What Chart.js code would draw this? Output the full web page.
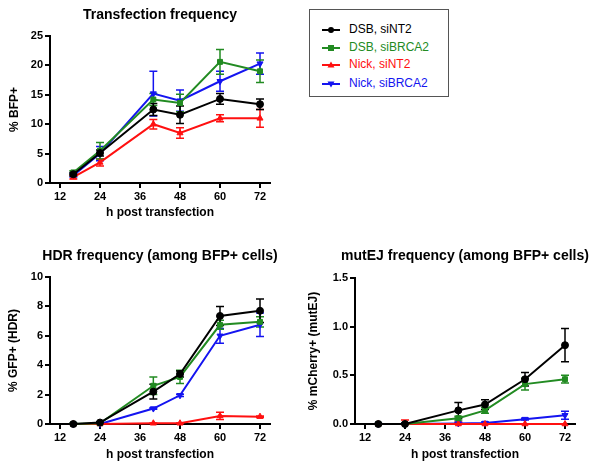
<!DOCTYPE html>
<html>
<head>
<meta charset="utf-8">
<script src="https://cdn.jsdelivr.net/npm/chart.js@4.4.0/dist/chart.umd.min.js"></script>
<style>
body{margin:0;background:#fff;font-family:"Liberation Sans",Arial,sans-serif;}
.panel{position:absolute;}
#legend{position:absolute;left:309px;top:9px;width:140px;height:88px;border:1.5px solid #555;box-sizing:border-box;font-size:12px;}
#legend .row{position:absolute;left:12px;height:14px;line-height:14px;white-space:nowrap;}
#legend svg{vertical-align:middle;margin-right:9px;}
</style>
</head>
<body>
<div class="panel" style="left:0;top:0;width:300px;height:230px"><canvas id="c1" width="300" height="230"></canvas></div>
<div class="panel" style="left:0;top:230px;width:300px;height:241px"><canvas id="c2" width="300" height="241"></canvas></div>
<div class="panel" style="left:300px;top:230px;width:301px;height:241px"><canvas id="c3" width="301" height="241"></canvas></div>
<div id="legend"></div>
<script>
// time points (h post transfection)
var hours = [16, 24, 40, 48, 60, 72];
var xTicks = [12, 24, 36, 48, 60, 72];

var seriesNames = ['DSB, siNT2', 'DSB, siBRCA2', 'Nick, siNT2', 'Nick, siBRCA2'];
var seriesColors = ['#000000', '#228b22', '#ff1010', '#1414f0'];
var seriesMarkers = ['circle', 'rect', 'triangle', 'triangle'];
var seriesRotation = [0, 0, 0, 180];

// Transfection frequency (% BFP+)
var bfpDsbNT2 = [1.5, 5.1, 12.5, 11.6, 14.3, 13.4];
var bfpDsbNT2Err = [0.3, 0.5, 1.0, 1.5, 0.9, 0.9];
var bfpDsbBRCA2 = [1.8, 5.5, 14.2, 13.6, 20.6, 19.0];
var bfpDsbBRCA2Err = [0.3, 1.4, 1.0, 1.5, 2.1, 1.9];
var bfpNickNT2 = [1.0, 3.5, 10.0, 8.5, 11.0, 11.0];
var bfpNickNT2Err = [0.3, 0.6, 0.8, 0.9, 0.6, 1.5];
var bfpNickBRCA2 = [1.3, 5.0, 15.2, 14.0, 17.3, 20.3];
var bfpNickBRCA2Err = [0.3, 1.2, 3.8, 1.8, 1.7, 1.8];

// HDR frequency (% GFP+)
var hdrDsbNT2 = [0, 0.1, 2.2, 3.4, 7.35, 7.7];
var hdrDsbNT2Err = [0.05, 0.05, 0.5, 0.2, 0.65, 0.8];
var hdrDsbBRCA2 = [0, 0.05, 2.6, 3.2, 6.75, 6.95];
var hdrDsbBRCA2Err = [0.05, 0.05, 0.6, 0.45, 0.3, 0.35];
var hdrNickNT2 = [0, 0, 0.05, 0.05, 0.55, 0.5];
var hdrNickNT2Err = [0, 0, 0.02, 0.02, 0.25, 0.05];
var hdrNickBRCA2 = [0, 0, 1.05, 1.95, 6.0, 6.75];
var hdrNickBRCA2Err = [0, 0, 0.05, 0.08, 0.5, 0.8];

// mutEJ frequency (% mCherry+)
var ejDsbNT2 = [0, 0, 0.14, 0.2, 0.46, 0.81];
var ejDsbNT2Err = [0.005, 0.01, 0.08, 0.05, 0.07, 0.17];
var ejDsbBRCA2 = [0, 0, 0.06, 0.14, 0.41, 0.46];
var ejDsbBRCA2Err = [0, 0.01, 0.02, 0.03, 0.06, 0.04];
var ejNickNT2 = [0, 0, 0, 0, 0, 0];
var ejNickNT2Err = [0, 0.04, 0.02, 0, 0, 0];
var ejNickBRCA2 = [0, 0, 0.005, 0.01, 0.05, 0.09];
var ejNickBRCA2Err = [0, 0, 0.005, 0.01, 0.01, 0.04];

var FONT = '"Liberation Sans", Arial, sans-serif';
Chart.defaults.font.family = FONT;
Chart.defaults.color = '#000';

// error bars with caps, drawn through the chart scales
var errorBars = {
  id: 'errorBars',
  beforeDatasetsDraw: function(chart) {
    var ctx = chart.ctx, xs = chart.scales.x, ys = chart.scales.y;
    for (var i = chart.data.datasets.length - 1; i >= 0; i--) {
      var ds = chart.data.datasets[i];
      ctx.save();
      ctx.strokeStyle = ds.borderColor;
      ctx.lineWidth = 1.5;
      ds.data.forEach(function(p, j) {
        var e = ds.errors[j];
        if (!e) return;
        var x = xs.getPixelForValue(p.x);
        var lo = ys.getPixelForValue(Math.max(p.y - e, ys.min));
        var hi = ys.getPixelForValue(p.y + e);
        ctx.beginPath();
        ctx.moveTo(x, lo); ctx.lineTo(x, hi);
        ctx.moveTo(x - 4, hi); ctx.lineTo(x + 4, hi);
        if (p.y - e > ys.min) { ctx.moveTo(x - 4, lo); ctx.lineTo(x + 4, lo); }
        ctx.stroke();
      });
      ctx.restore();
    }
  }
};

var panelTitle = {
  id: 'panelTitle',
  afterDraw: function(chart, args, opts) {
    var ctx = chart.ctx, a = chart.chartArea;
    ctx.save();
    ctx.font = 'bold 14px ' + FONT;
    ctx.fillStyle = '#000';
    ctx.textAlign = 'center';
    ctx.textBaseline = 'middle';
    ctx.fillText(opts.text, (a.left + a.right) / 2, opts.y);
    ctx.restore();
  }
};

function makeDatasets(values, errors) {
  return values.map(function(vals, i) {
    return {
      label: seriesNames[i],
      data: vals.map(function(v, j) { return {x: hours[j], y: v}; }),
      errors: errors[i],
      borderColor: seriesColors[i],
      backgroundColor: seriesColors[i],
      borderWidth: 2,
      pointStyle: seriesMarkers[i],
      rotation: seriesRotation[i],
      pointRadius: 3.5,
      pointBorderWidth: 1,
      tension: 0,
      clip: false
    };
  });
}

function axisStyle() {
  return {
    grid: {drawOnChartArea: false, color: '#000', lineWidth: 2, tickLength: 5},
    border: {color: '#000', width: 2}
  };
}

function makeChart(id, title, titleY, values, errors, yMax, yStep, yTitle, yWidth, decimals, pad) {
  var x = axisStyle(), y = axisStyle();
  x.type = 'linear'; x.min = 9; x.max = 75;
  x.afterBuildTicks = function(s) { s.ticks = xTicks.map(function(v) { return {value: v}; }); };
  x.ticks = {color: '#000', font: {size: 11, weight: 'bold'}, padding: 2, maxRotation: 0};
  x.title = {display: true, text: 'h post transfection', color: '#000', font: {size: 12, weight: 'bold'}, padding: {top: 0, bottom: pad.xTitle}};
  x.afterFit = function(s) { s.height = pad.xHeight; };
  y.type = 'linear'; y.min = 0; y.max = yMax;
  y.ticks = {color: '#000', font: {size: 11, weight: 'bold'}, padding: 2, stepSize: yStep,
    callback: function(v) { return v.toFixed(decimals); }};
  y.title = {display: true, text: yTitle, color: '#000', font: {size: 12, weight: 'bold'}, padding: {top: pad.yTitle, bottom: 0}};
  y.afterFit = function(s) { s.width = yWidth; };
  return new Chart(document.getElementById(id), {
    type: 'line',
    data: {datasets: makeDatasets(values, errors)},
    options: {
      responsive: false,
      animation: false,
      layout: {padding: {top: pad.top, right: pad.right, left: 0, bottom: 0}},
      plugins: {legend: {display: false}, tooltip: {enabled: false}, title: {display: false},
        panelTitle: {text: title, y: titleY}},
      scales: {x: x, y: y}
    },
    plugins: [errorBars, panelTitle]
  });
}

makeChart('c1', 'Transfection frequency', 15,
  [bfpDsbNT2, bfpDsbBRCA2, bfpNickNT2, bfpNickBRCA2],
  [bfpDsbNT2Err, bfpDsbBRCA2Err, bfpNickNT2Err, bfpNickBRCA2Err],
  25, 5, '% BFP+', 50, 0, {top: 36, right: 30, xHeight: 47, xTitle: 10, yTitle: 7});

makeChart('c2', 'HDR frequency (among BFP+ cells)', 26,
  [hdrDsbNT2, hdrDsbBRCA2, hdrNickNT2, hdrNickBRCA2],
  [hdrDsbNT2Err, hdrDsbBRCA2Err, hdrNickNT2Err, hdrNickBRCA2Err],
  10, 2, '% GFP+ (HDR)', 50, 0, {top: 47, right: 30, xHeight: 47, xTitle: 9, yTitle: 6});

makeChart('c3', 'mutEJ frequency (among BFP+ cells)', 26,
  [ejDsbNT2, ejDsbBRCA2, ejNickNT2, ejNickBRCA2],
  [ejDsbNT2Err, ejDsbBRCA2Err, ejNickNT2Err, ejNickBRCA2Err],
  1.5, 0.5, '% mCherry+ (mutEJ)', 55, 1, {top: 48, right: 26, xHeight: 47, xTitle: 9, yTitle: 6});

// legend box
var legend = document.getElementById('legend');
var rowTops = [12, 30, 47, 66];
seriesNames.forEach(function(name, i) {
  var c = seriesColors[i];
  var m;
  if (seriesMarkers[i] === 'circle') m = '<circle cx="9" cy="5" r="3" fill="' + c + '"/>';
  else if (seriesMarkers[i] === 'rect') m = '<rect x="6" y="2" width="6" height="6" fill="' + c + '"/>';
  else if (seriesRotation[i] === 0) m = '<polygon points="9,1.5 12.5,7.5 5.5,7.5" fill="' + c + '"/>';
  else m = '<polygon points="9,8.5 12.5,2.5 5.5,2.5" fill="' + c + '"/>';
  var row = document.createElement('div');
  row.className = 'row';
  row.style.top = rowTops[i] + 'px';
  row.style.color = c;
  row.innerHTML = '<svg width="18" height="10"><line x1="0" y1="5" x2="18" y2="5" stroke="' + c + '" stroke-width="2"/>' + m + '</svg>' + name;
  legend.appendChild(row);
});
</script>
</body>
</html>
